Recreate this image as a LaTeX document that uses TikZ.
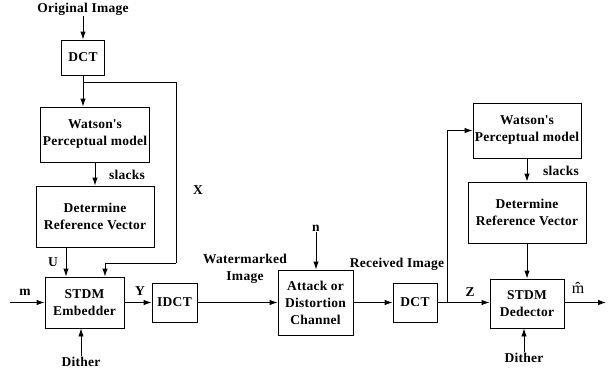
\documentclass[tikz,border=0pt]{standalone}
\usepackage{fontspec}
\setmainfont{Liberation Serif}
\newfontfamily\figfont{Liberation Serif}[BoldFont={Liberation Serif Bold}, LetterSpace=2]
\usetikzlibrary{shapes,arrows,arrows.meta,positioning,fit}

\tikzset{
    blk/.style={draw, rectangle, line width=0.9pt, align=center, inner sep=1pt},
    lbl/.style={inner sep=1pt, align=center},
    link/.style={line width=0.9pt, -{Latex[length=8pt,width=5.5pt]}}
}

\begin{document}
\begin{tikzpicture}[x=1pt, y=-1pt, font=\figfont\fontsize{13.5}{17}\selectfont\bfseries]
    \useasboundingbox (0,0) rectangle (613,372);

    \node[lbl] (orig) at (83,9) {Original Image};
    \node[blk, minimum width=43pt, minimum height=35pt] (dcta) at (83,57.5) {DCT};
    \node[blk, minimum width=109pt, minimum height=55pt] (wata) at (95,134.5) {Watson\textquotesingle s\\Perceptual model};
    \node[blk, minimum width=118pt, minimum height=61pt] (refa) at (95,216.5) {Determine\\Reference Vector};
    \node[blk, minimum width=79pt, minimum height=51pt] (emb) at (84.5,302.5) {STDM\\Embedder};
    \node[blk, minimum width=45pt, minimum height=39pt] (idct) at (174.5,302.5) {IDCT};
    \node[blk, minimum width=75pt, minimum height=65pt] (chan) at (315.5,302.5) {Attack or\\Distortion\\Channel};
    \node[blk, minimum width=44pt, minimum height=39pt] (dctb) at (415,302.5) {DCT};
    \node[blk, minimum width=108pt, minimum height=55pt] (watb) at (527,130.5) {Watson\textquotesingle s\\Perceptual model};
    \node[blk, minimum width=118pt, minimum height=61pt] (refb) at (527,212.5) {Determine\\Reference Vector};
    \node[blk, minimum width=74pt, minimum height=49pt] (det) at (527,303.5) {STDM\\Dedector};

    \node[lbl] (dith_a) at (81,362) {Dither};
    \node[lbl] (dith_b) at (524,358) {Dither};
    \node[lbl] (noise) at (316,228) {n};

    \coordinate (min) at (10,302.5);
    \coordinate (mout) at (606,302.5);
    \coordinate (xa) at (83,82);
    \coordinate (xb) at (176,263);
    \coordinate (zb) at (447,302.5);

    \draw[link] (orig) -- (dcta);
    \draw[link] (dcta) -- (dcta |- wata.north);
    \draw[line width=0.9pt] (xa) -| (xb);
    \draw[link] (xb) -| ([xshift=20.5pt]emb.north);
    \draw[link] (wata) -- (refa);
    \draw[link] ([xshift=-29pt]refa.south) -- ([xshift=-18.5pt]emb.north);
    \draw[link] (min) -- (emb);
    \draw[link] (dith_a) -- (dith_a |- emb.south);
    \draw[link] (emb) -- (idct);
    \draw[link] (idct) -- (chan);
    \draw[link] (noise) -- (noise |- chan.north);
    \draw[link] (chan) -- (dctb);
    \draw[link] (dctb) -- (det.west |- dctb);
    \draw[link] (zb) |- (watb.west);
    \draw[link] (watb) -- (refb);
    \draw[link] (refb) -- (det);
    \draw[link] (dith_b) -- (dith_b |- det.south);
    \draw[link] (det.east |- mout) -- (mout);

    \node[lbl] at (198,190) {X};
    \node[lbl] at (127,175) {slacks};
    \node[lbl] at (53,262) {U};
    \node[lbl] at (25,292) {m};
    \node[lbl] at (140,291) {Y};
    \node[lbl] at (245,269) {Watermarked\\Image};
    \node[lbl] at (397,264) {Received Image};
    \node[lbl] at (470,292) {Z};
    \node[lbl] at (561,171) {slacks};
    \node[lbl] at (578,288) {\mdseries\fontsize{16}{16}\selectfont\^{m}};
\end{tikzpicture}
\end{document}
